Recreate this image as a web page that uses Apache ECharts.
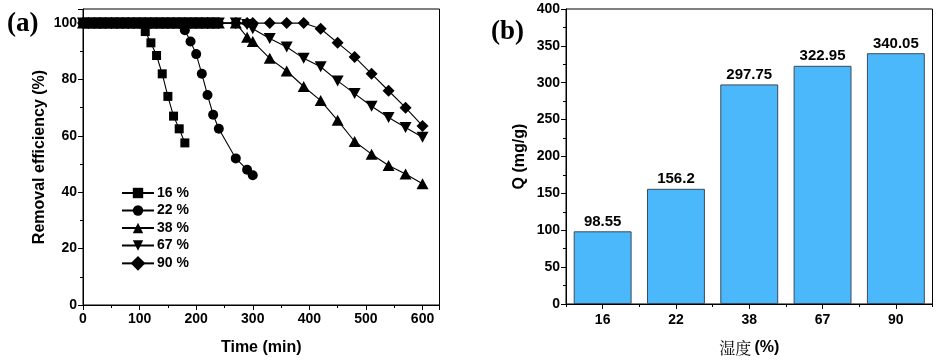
<!DOCTYPE html>
<html>
<head>
<meta charset="utf-8">
<script src="https://cdn.jsdelivr.net/npm/echarts@6/dist/echarts.min.js"></script>
<style>
html,body{margin:0;padding:0;background:#fff;}
#c{width:939px;height:361px;}
</style>
</head>
<body>
<div id="c"></div>
<script>
// ---- data (a) ----
var seriesNames = ['16 %', '22 %', '38 %', '67 %', '90 %'];
var t16 = [0,10,20,30,40,50,60,70,80,90,100,110,120,130,140,150,160,170,180];
var v16 = [100,100,100,100,100,100,100,100,100,100,100,97,93,88.5,82,74,67,62.5,57.5];
var t22 = [0,10,20,30,40,50,60,70,80,90,100,110,120,130,140,150,160,170,180,190,200,210,220,230,240,270,290,300];
var v22 = [100,100,100,100,100,100,100,100,100,100,100,100,100,100,100,100,100,100,97.5,93.5,89,82,74.5,67.5,62.5,52,48,46];
var tLate = [0,10,20,30,40,50,60,70,80,90,100,110,120,130,140,150,160,170,180,190,200,210,220,230,240,270,290,300,330,360,390,420,450,480,510,540,570,600];
var v38 = [100,100,100,100,100,100,100,100,100,100,100,100,100,100,100,100,100,100,100,100,100,100,100,100,100,100,95,93.5,87.5,83,77.5,72.5,65.5,58,53.5,49.5,46.5,43];
var v67 = [100,100,100,100,100,100,100,100,100,100,100,100,100,100,100,100,100,100,100,100,100,100,100,100,100,100,99.5,98,94.5,91.5,87.5,84.5,79.5,75,70.5,66.5,63,59.5];
var v90 = [100,100,100,100,100,100,100,100,100,100,100,100,100,100,100,100,100,100,100,100,100,100,100,100,100,100,100,100,100,100,100,98,93,88,82,76,70,63.5];
var xTicksA = [0,100,200,300,400,500,600];
var yTicksA = [0,20,40,60,80,100];
// ---- data (b) ----
var humidity = ['16', '22', '38', '67', '90'];
var qValues = [98.55, 156.2, 297.75, 322.95, 340.05];
var yTicksB = [0,50,100,150,200,250,300,350,400];

function pairs(t, v){ return t.map(function(x,i){ return [x, v[i]]; }); }

var font = 'Liberation Sans, Arial, sans-serif';
var lbl = {color:'#000', fontFamily:font, fontWeight:'bold', fontSize:14};
var black = '#000';

var lineBase = function(name, data, symbol, size, rot){
  return {
    name:name, type:'line', xAxisIndex:0, yAxisIndex:0,
    data:data, symbol:symbol, symbolSize:size, symbolRotate:rot||0,
    showAllSymbol:true, animation:false,
    lineStyle:{color:black, width:1.1},
    itemStyle:{color:black, borderColor:black, borderWidth:0}
  };
};

var chart = echarts.init(document.getElementById('c'), null, {renderer:'canvas'});
chart.setOption({
  animation:false,
  backgroundColor:'#fff',
  graphic:[
    {type:'text', left:7, top:11, style:{text:'(a)', font:'bold 27px "Liberation Serif", "Times New Roman", serif', fill:'#000'}},
    {type:'text', left:491, top:19, style:{text:'(b)', font:'bold 27px "Liberation Serif", "Times New Roman", serif', fill:'#000'}}
  ],
  legend:{
    data:seriesNames, orient:'vertical', left:116, top:181,
    itemWidth:32, itemHeight:13, itemGap:3.5,
    lineStyle:{width:2},
    textStyle:{color:'#000', fontFamily:font, fontWeight:'bold', fontSize:14, padding:[0,0,0,-2]}
  },
  grid:[
    {left:83, top:9, width:356.5, height:296, show:true, borderColor:'#000', borderWidth:1, containLabel:false},
    {left:566, top:9, width:366.5, height:296, show:true, borderColor:'#000', borderWidth:1, containLabel:false}
  ],
  xAxis:[
    {type:'value', gridIndex:0, min:0, max:630, interval:100,
      name:'Time (min)', nameLocation:'middle', nameGap:35,
      nameTextStyle:{color:'#000', fontFamily:font, fontWeight:'bold', fontSize:16},
      axisLine:{show:true, lineStyle:{color:'#000', width:1}},
      axisTick:{show:true, inside:false, length:5, lineStyle:{color:'#000'}},
      minorTick:{show:true, splitNumber:2, length:3, lineStyle:{color:'#000'}},
      splitLine:{show:false},
      axisLabel:Object.assign({margin:7, showMaxLabel:false, formatter:function(v){return xTicksA.indexOf(v)>=0? String(v):'';}}, lbl)
    },
    {type:'category', gridIndex:1, data:humidity, position:'bottom',
      name:'{c|湿度} {d|(%)}', nameLocation:'middle', nameGap:36,
      nameTextStyle:{rich:{
        c:{fontFamily:'Noto Serif CJK SC, Noto Sans CJK SC, serif', fontSize:16, color:'#000'},
        d:{fontFamily:font, fontWeight:'bold', fontSize:16, color:'#000'}}},
      axisLine:{show:true, lineStyle:{color:'#000', width:1}},
      axisTick:{show:true, inside:false, length:3, alignWithLabel:false, lineStyle:{color:'#000'}},
      splitLine:{show:false},
      axisLabel:Object.assign({margin:9}, lbl)
    },
    {type:'category', gridIndex:1, data:humidity, position:'bottom',
      axisLine:{show:false},
      axisTick:{show:true, inside:false, length:5, alignWithLabel:true, lineStyle:{color:'#000'}},
      axisLabel:{show:false}, splitLine:{show:false}
    }
  ],
  yAxis:[
    {type:'value', gridIndex:0, min:0, max:105, interval:20,
      name:'Removal efficiency (%)', nameLocation:'middle', nameGap:35,
      nameTextStyle:{color:'#000', fontFamily:font, fontWeight:'bold', fontSize:16},
      axisLine:{show:true, lineStyle:{color:'#000', width:1}},
      axisTick:{show:true, inside:false, length:5, lineStyle:{color:'#000'}},
      minorTick:{show:true, splitNumber:2, length:3, lineStyle:{color:'#000'}},
      splitLine:{show:false},
      axisLabel:Object.assign({margin:6, showMaxLabel:false, formatter:function(v){return yTicksA.indexOf(v)>=0? String(v):'';}}, lbl)
    },
    {type:'value', gridIndex:1, min:0, max:400, interval:50,
      name:'Q (mg/g)', nameLocation:'middle', nameGap:38,
      nameTextStyle:{color:'#000', fontFamily:font, fontWeight:'bold', fontSize:16},
      axisLine:{show:true, lineStyle:{color:'#000', width:1}},
      axisTick:{show:true, inside:false, length:5, lineStyle:{color:'#000'}},
      minorTick:{show:true, splitNumber:2, length:3, lineStyle:{color:'#000'}},
      splitLine:{show:false},
      axisLabel:Object.assign({margin:6, formatter:function(v){return yTicksB.indexOf(v)>=0? String(v):'';}}, lbl)
    }
  ],
  series:[
    lineBase(seriesNames[0], pairs(t16, v16), 'rect', 9),
    lineBase(seriesNames[1], pairs(t22, v22), 'circle', 10),
    lineBase(seriesNames[2], pairs(tLate, v38), 'triangle', [12,11]),
    lineBase(seriesNames[3], pairs(tLate, v67), 'triangle', [12,11], 180),
    lineBase(seriesNames[4], pairs(tLate, v90), 'rect', 8.5, 45),
    {type:'bar', xAxisIndex:1, yAxisIndex:1, data:qValues, barWidth:'79%',
      itemStyle:{color:'#4BB8FB', borderColor:'#3a4a5a', borderWidth:1},
      label:{show:true, position:'top', distance:2, color:'#000', fontFamily:font, fontWeight:'bold', fontSize:15,
        formatter:function(p){ return String(p.value); }}
    }
  ]
});
</script>
</body>
</html>
